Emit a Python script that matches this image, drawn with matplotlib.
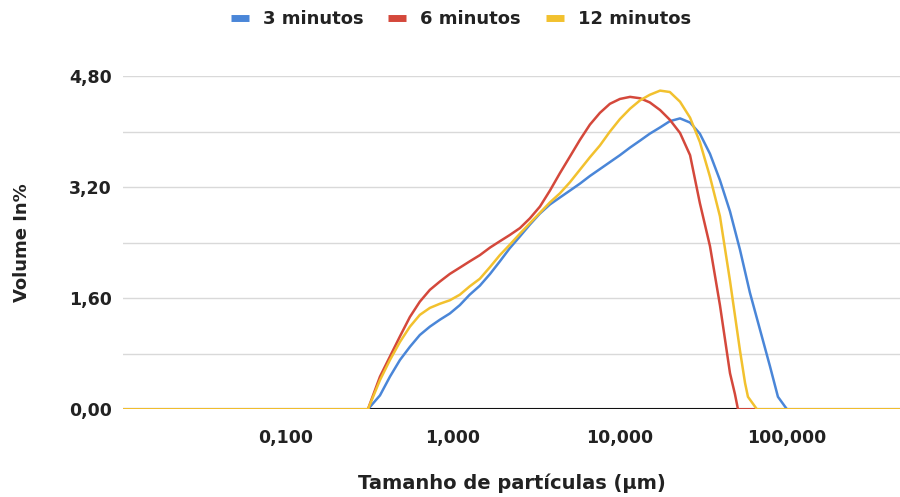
import matplotlib
matplotlib.use("Agg")
import matplotlib.pyplot as plt
from matplotlib.lines import Line2D
from matplotlib.ticker import FixedLocator, NullLocator

# particle size (um) and volume (%)
sizes_3 = [0.0106, 0.310, 0.366, 0.420, 0.482, 0.553, 0.634, 0.728, 0.836, 0.959,
           1.10, 1.26, 1.45, 1.67, 1.91, 2.19, 2.52, 2.89, 3.32, 3.81, 4.37, 5.02,
           5.76, 6.61, 7.59, 8.71, 10.0, 11.5, 13.2, 15.1, 17.4, 19.9, 22.9, 26.3,
           30.1, 34.6, 39.7, 45.6, 52.3, 60.0, 68.9, 79.1, 88.3, 100.0, 475.0]
vol_3 = [0, 0, 0.20, 0.47, 0.71, 0.90, 1.07, 1.19, 1.29, 1.38,
         1.50, 1.65, 1.78, 1.95, 2.13, 2.32, 2.49, 2.66, 2.82, 2.95, 3.05, 3.15,
         3.25, 3.36, 3.46, 3.56, 3.66, 3.77, 3.87, 3.97, 4.06, 4.15, 4.19, 4.13,
         3.97, 3.68, 3.30, 2.85, 2.30, 1.68, 1.15, 0.62, 0.18, 0, 0]

sizes_6 = [0.0106, 0.310, 0.366, 0.420, 0.482, 0.553, 0.634, 0.728, 0.836, 0.959,
           1.10, 1.26, 1.45, 1.67, 1.91, 2.19, 2.52, 2.89, 3.32, 3.81, 4.37, 5.02,
           5.76, 6.61, 7.59, 8.71, 10.0, 11.5, 13.2, 15.1, 17.4, 19.9, 22.9, 26.3,
           30.1, 34.6, 39.7, 45.6, 48.8, 50.9, 475.0]
vol_6 = [0, 0, 0.47, 0.76, 1.05, 1.33, 1.55, 1.72, 1.84, 1.95,
         2.04, 2.13, 2.22, 2.33, 2.42, 2.51, 2.61, 2.75, 2.92, 3.15, 3.40, 3.64,
         3.88, 4.10, 4.27, 4.40, 4.47, 4.50, 4.48, 4.42, 4.31, 4.17, 3.98, 3.66,
         2.97, 2.35, 1.50, 0.52, 0.22, 0, 0]

sizes_12 = [0.0106, 0.310, 0.366, 0.420, 0.482, 0.553, 0.634, 0.728, 0.836, 0.959,
            1.10, 1.26, 1.45, 1.67, 1.91, 2.19, 2.52, 2.89, 3.32, 3.81, 4.37, 5.02,
            5.76, 6.61, 7.59, 8.71, 10.0, 11.5, 13.2, 15.1, 17.4, 19.9, 22.9, 26.3,
            30.1, 34.6, 39.7, 45.6, 52.3, 56.1, 58.4, 66.1, 475.0]
vol_12 = [0, 0, 0.42, 0.71, 0.97, 1.19, 1.36, 1.46, 1.52, 1.57,
          1.65, 1.77, 1.88, 2.05, 2.22, 2.37, 2.53, 2.68, 2.83, 2.98, 3.11, 3.27,
          3.45, 3.63, 3.80, 4.00, 4.18, 4.33, 4.45, 4.53, 4.59, 4.57, 4.43, 4.20,
          3.85, 3.35, 2.78, 1.85, 0.85, 0.38, 0.18, 0, 0]

series_names = ["3 minutos", "6 minutos", "12 minutos"]
colors = ["#4a86d8", "#d4483b", "#f2c12e"]

x_ticks = [0.1, 1, 10, 100]
x_ticklabels = ["0,100", "1,000", "10,000", "100,000"]
y_ticks = [0, 1.6, 3.2, 4.8]
y_ticklabels = ["0,00", "1,60", "3,20", "4,80"]
y_minor = [0.8, 2.4, 4.0]

TEXT = "#222222"

fig = plt.figure(figsize=(9, 4.97), dpi=100)
ax = fig.add_axes([0.1367, 0.1765, 0.8633, 0.6705])

ax.axhline(0, color="#111111", linewidth=1.5, zorder=2)
data = [(sizes_3, vol_3), (sizes_6, vol_6), (sizes_12, vol_12)]
for (xs, ys), name, c in zip(data, series_names, colors):
    ax.plot(xs, ys, color=c, linewidth=1.8, label=name, zorder=3,
            solid_joinstyle="round")

ax.set_xscale("log")
ax.set_xlim(0.0106, 475)
ax.set_ylim(0, 4.8)

ax.xaxis.set_major_locator(FixedLocator(x_ticks))
ax.xaxis.set_minor_locator(NullLocator())
ax.set_xticklabels(x_ticklabels)
ax.set_yticks(y_ticks)
ax.set_yticklabels(y_ticklabels)
ax.yaxis.set_minor_locator(FixedLocator(y_minor))

ax.grid(True, axis="y", which="both", color="#d9d9d9", linewidth=1, zorder=1)
ax.set_axisbelow(True)
for s in ax.spines.values():
    s.set_visible(False)
ax.tick_params(axis="both", which="both", length=0)
ax.tick_params(axis="y", pad=8, labelsize=12.5, labelcolor=TEXT)
ax.tick_params(axis="x", pad=14, labelsize=12.5, labelcolor=TEXT)
for lab in ax.get_xticklabels() + ax.get_yticklabels():
    lab.set_fontweight("bold")

ax.set_xlabel("Tamanho de partículas (µm)", fontsize=14, fontweight="bold", color=TEXT)
ax.xaxis.set_label_coords(0.5, -0.194)
ax.set_ylabel("Volume In%", fontsize=13, fontweight="bold", color=TEXT)
ax.yaxis.set_label_coords(-0.118, 0.5)

handles = [Line2D([], [], color=c, linewidth=5, solid_capstyle="butt") for c in colors]
fig.legend(handles, series_names, loc="center", bbox_to_anchor=(0.512, 0.962),
           ncol=3, frameon=False, handlelength=1.0, handletextpad=0.75,
           columnspacing=1.4, prop={"size": 13, "weight": "bold"}, labelcolor=TEXT)

fig.savefig("out.png", dpi=100)
